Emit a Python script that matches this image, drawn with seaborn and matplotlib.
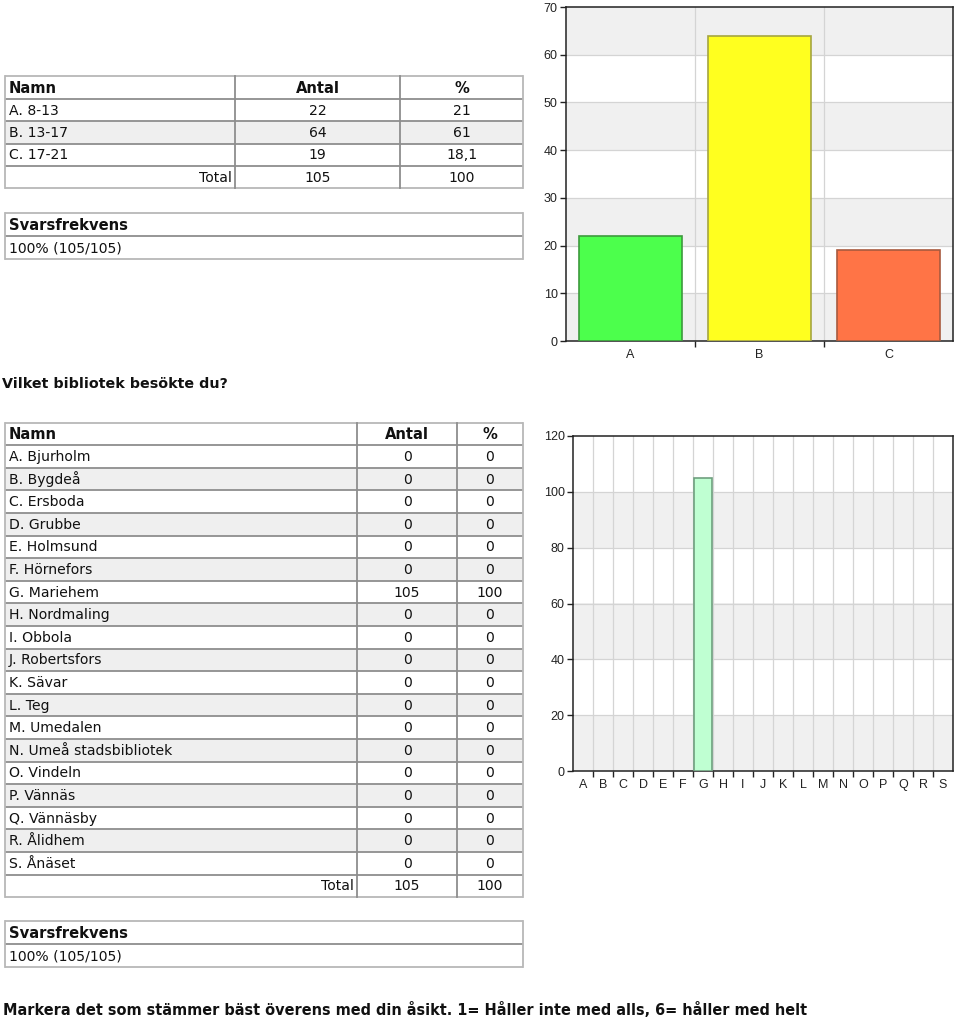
import numpy as np
import pandas as pd
import matplotlib
matplotlib.use("Agg")
import matplotlib.pyplot as plt
from matplotlib.patches import Rectangle
import seaborn as sns

# ---------------- data ----------------
age_labels = ["A. 8-13", "B. 13-17", "C. 17-21"]
age_letters = ["A", "B", "C"]
age_counts = [22, 64, 19]
age_pcts = ["21", "61", "18,1"]
age_total = ["105", "100"]

lib_labels = ["A. Bjurholm", "B. Bygdeå", "C. Ersboda", "D. Grubbe", "E. Holmsund",
              "F. Hörnefors", "G. Mariehem", "H. Nordmaling", "I. Obbola",
              "J. Robertsfors", "K. Sävar", "L. Teg", "M. Umedalen",
              "N. Umeå stadsbibliotek", "O. Vindeln", "P. Vännäs", "Q. Vännäsby",
              "R. Ålidhem", "S. Ånäset"]
lib_letters = ["A", "B", "C", "D", "E", "F", "G", "H", "I", "J", "K", "L", "M",
               "N", "O", "P", "Q", "R", "S"]
lib_counts = [0, 0, 0, 0, 0, 0, 105, 0, 0, 0, 0, 0, 0, 0, 0, 0, 0, 0, 0]
lib_pcts = ["0", "0", "0", "0", "0", "0", "100", "0", "0", "0", "0", "0", "0",
            "0", "0", "0", "0", "0", "0"]
lib_total = ["105", "100"]

svar_header = "Svarsfrekvens"
svar_text = "100% (105/105)"
question = "Vilket bibliotek besökte du?"
footer = "Markera det som stämmer bäst överens med din åsikt. 1= Håller inte med alls, 6= håller med helt"

age_colors = ["#4cff4c", "#ffff1f", "#ff7446"]
age_edges = ["#3d9a3d", "#a6a640", "#a85a3e"]
lib_colors = ["#bfffd2"] * 19
lib_edge = "#6f9f7f"

# ---------------- figure ----------------
W, H = 960, 1021
fig = plt.figure(figsize=(W / 100, H / 100), dpi=100)
fig.patch.set_facecolor("white")

page = fig.add_axes([0, 0, 1, 1])
page.set_xlim(0, W)
page.set_ylim(H, 0)
page.axis("off")

GREY = "#efefef"
LINE = "#8e8e8e"


def px_axes(left, top, right, bottom):
    return fig.add_axes([left / W, 1 - bottom / H, (right - left) / W, (bottom - top) / H])


def draw_table(x_edges, y_top, row_h, rows, shades, aligns, bold_rows=(), vlines=True):
    n = len(rows)
    x0, x1 = x_edges[0], x_edges[-1]
    for i, row in enumerate(rows):
        y0 = y_top + i * row_h
        page.add_patch(Rectangle((x0, y0), x1 - x0, row_h, facecolor=shades[i],
                                 edgecolor="none", zorder=1))
        for j, txt in enumerate(row):
            if txt is None or txt == "":
                continue
            a = aligns[i][j]
            if a == "left":
                xx = x_edges[j] + 4
            elif a == "right":
                xx = x_edges[j + 1] - 3
            else:
                xx = (x_edges[j] + x_edges[j + 1]) / 2
            bold = i in bold_rows
            page.text(xx, y0 + row_h / 2 + 0.5, txt, ha=a, va="center",
                      family="DejaVu Sans", color="#111111",
                      fontsize=10.6 if bold else 10.1,
                      fontweight="bold" if bold else "normal", zorder=3)
    for i in range(n + 1):
        y = y_top + i * row_h
        c = "#b8b8b8" if i in (0, n) else LINE
        page.plot([x0, x1], [y, y], color=c, lw=1.3, zorder=2, solid_capstyle="butt")
    y_end = y_top + n * row_h
    page.plot([x0, x0], [y_top, y_end], color="#b8b8b8", lw=1.3, zorder=2)
    page.plot([x1, x1], [y_top, y_end], color="#b8b8b8", lw=1.3, zorder=2)
    if vlines:
        for x in x_edges[1:-1]:
            page.plot([x, x], [y_top, y_end], color=LINE, lw=1.3, zorder=2)


# ---- top table ----
rows1 = [["Namn", "Antal", "%"]]
rows1 += [[l, str(c), p] for l, c, p in zip(age_labels, age_counts, age_pcts)]
rows1 += [["Total", age_total[0], age_total[1]]]
shades1 = ["white"] + ["white" if k % 2 == 0 else GREY for k in range(len(age_labels))] + ["white"]
aligns1 = [["left", "center", "center"]] + [["left", "center", "center"]] * len(age_labels) \
          + [["right", "center", "center"]]
draw_table([5, 235, 400, 523], 76.5, 22.4, rows1, shades1, aligns1, bold_rows=(0,))

draw_table([5, 523], 213.5, 22.8, [[svar_header], [svar_text]], ["white", "white"],
           [["left"], ["left"]], bold_rows=(0,), vlines=False)

page.text(2, 384, question, ha="left", va="center", family="DejaVu Sans",
          fontsize=10.3, fontweight="bold", color="#111111")

# ---- second table ----
rows2 = [["Namn", "Antal", "%"]]
rows2 += [[l, str(c), p] for l, c, p in zip(lib_labels, lib_counts, lib_pcts)]
rows2 += [["Total", lib_total[0], lib_total[1]]]
shades2 = ["white"] + ["white" if k % 2 == 0 else GREY for k in range(len(lib_labels))] + ["white"]
aligns2 = [["left", "center", "center"]] + [["left", "center", "center"]] * len(lib_labels) \
          + [["right", "center", "center"]]
draw_table([5, 357, 457, 523], 422.5, 22.6, rows2, shades2, aligns2, bold_rows=(0,))

draw_table([5, 523], 921, 23.0, [[svar_header], [svar_text]], ["white", "white"],
           [["left"], ["left"]], bold_rows=(0,), vlines=False)

page.text(3, 1010, footer, ha="left", va="center", family="DejaVu Sans",
          fontsize=10.45, fontweight="bold", color="#111111")


# ---------------- charts ----------------
def style_chart(ax, ymax, ystep, n):
    ax.set_facecolor("white")
    for y0 in np.arange(0, ymax, 2 * ystep):
        ax.axhspan(y0, y0 + ystep, color="#f0f0f0", zorder=0, lw=0)
    for y in np.arange(ystep, ymax, ystep):
        ax.axhline(y, color="#d4d4d4", lw=0.9, zorder=0.5)
    for x in np.arange(0.5, n - 0.5, 1.0):
        ax.axvline(x, color="#d4d4d4", lw=0.9, zorder=0.5)
    ax.set_xlim(-0.5, n - 0.5)
    ax.set_ylim(0, ymax)
    ax.set_yticks(np.arange(0, ymax + 1, ystep))
    ax.set_xticks(np.arange(0.5, n - 0.5, 1.0), minor=True)
    ax.tick_params(axis="x", which="major", length=0, pad=6, labelsize=9, labelcolor="#222222")
    ax.tick_params(axis="x", which="minor", length=4, width=1, color="#222222", bottom=True)
    ax.tick_params(axis="y", length=4, width=1, color="#222222", left=True, pad=2,
                   labelsize=9, labelcolor="#222222")
    for lab in ax.get_xticklabels() + ax.get_yticklabels():
        lab.set_family("Liberation Sans")
    for s in ax.spines.values():
        s.set_color("#222222")
        s.set_linewidth(1.1)
    ax.set_xlabel("")
    ax.set_ylabel("")


ax1 = px_axes(566, 7, 953, 341)
df1 = pd.DataFrame({"cat": age_letters, "val": age_counts})
sns.barplot(data=df1, x="cat", y="val", hue="cat", palette=age_colors, legend=False,
            width=0.8, ax=ax1, linewidth=1.2, zorder=3, saturation=1)
for p, ec in zip(ax1.patches, age_edges):
    p.set_edgecolor(ec)
style_chart(ax1, 70, 10, len(age_letters))

ax2 = px_axes(573, 436, 953, 771)
df2 = pd.DataFrame({"cat": lib_letters, "val": lib_counts})
sns.barplot(data=df2, x="cat", y="val", hue="cat", palette=lib_colors, legend=False,
            width=0.88, ax=ax2, linewidth=1.2, edgecolor=lib_edge, zorder=3, saturation=1)
for p in ax2.patches:
    if p.get_height() == 0:
        p.set_linewidth(0)
style_chart(ax2, 120, 20, len(lib_letters))

fig.savefig("out.png", dpi=100, facecolor="white")
